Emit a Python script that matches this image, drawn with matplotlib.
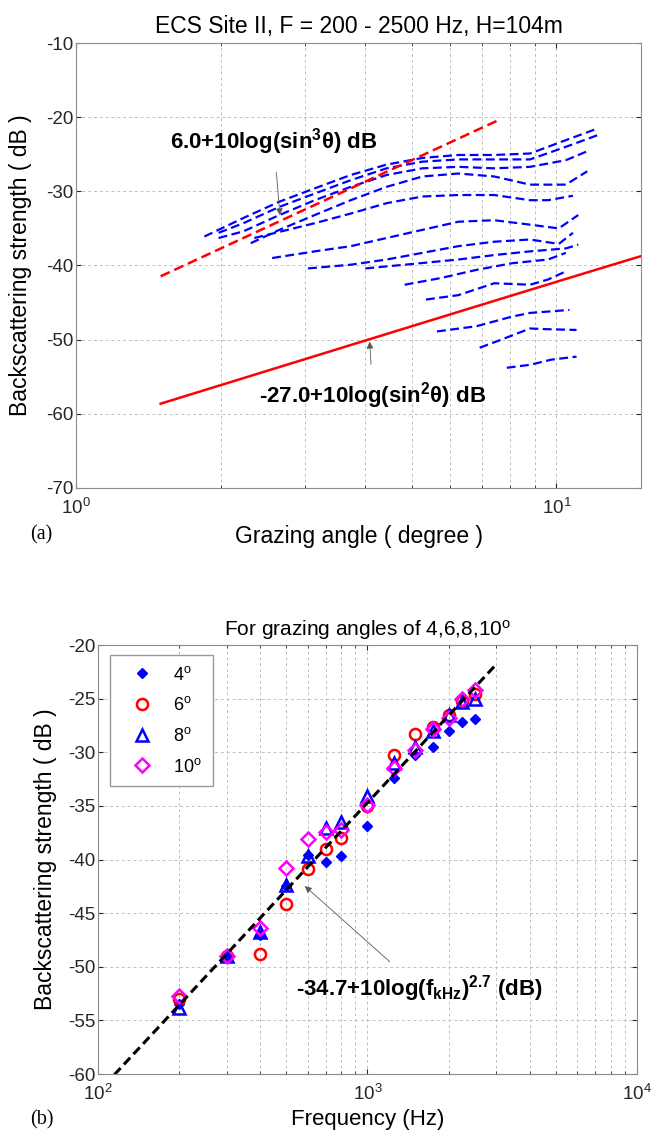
import numpy as np
import matplotlib
matplotlib.use("Agg")
import matplotlib.pyplot as plt
from matplotlib.ticker import LogLocator, NullFormatter, FixedLocator

plt.rcParams["font.family"] = ["Liberation Sans", "DejaVu Sans"]
plt.rcParams["mathtext.fontset"] = "custom"
plt.rcParams["mathtext.rm"] = "Liberation Sans"
plt.rcParams["mathtext.it"] = "Liberation Sans"
plt.rcParams["mathtext.bf"] = "Liberation Sans:bold"
plt.rcParams["axes.unicode_minus"] = False

# ---- (a) backscattering vs grazing angle, one dashed curve per frequency
curve_angles = [
    [1.85, 2.23, 2.65, 3.14, 3.73, 4.43, 5.26, 6.25, 7.42, 8.81, 10.46, 12.21],
    [1.98, 2.23, 2.65, 3.14, 3.73, 4.43, 5.26, 6.25, 7.42, 8.81, 10.46, 12.21],
    [1.98, 2.23, 2.65, 3.14, 3.73, 4.43, 5.26, 6.25, 7.42, 8.81, 10.46, 11.59],
    [2.31, 2.65, 3.14, 3.73, 4.43, 5.26, 6.25, 7.42, 8.81, 10.46, 11.59],
    [2.35, 3.14, 3.73, 4.43, 5.26, 6.25, 7.42, 8.81, 9.60, 10.82],
    [2.56, 3.14, 3.73, 4.43, 5.26, 6.25, 7.42, 8.81, 10.11, 11.10],
    [3.04, 3.73, 4.43, 5.26, 6.25, 7.42, 8.81, 10.11, 10.82],
    [4.00, 4.83, 6.25, 7.42, 8.81, 10.46, 11.10],
    [4.83, 5.74, 6.81, 8.08, 9.60, 10.46],
    [5.35, 6.25, 7.42, 8.81, 9.60, 10.46],
    [5.64, 6.81, 8.08, 8.81, 10.64],
    [6.92, 7.68, 8.81, 9.60, 11.01],
    [7.88, 8.81, 9.76, 11.01],
]
curve_db = [
    [-36.1, -33.6, -31.4, -29.6, -27.8, -26.4, -25.5, -25.1, -25.1, -24.9, -23.1, -21.5],
    [-35.6, -34.3, -32.1, -30.3, -28.5, -26.9, -26.0, -25.7, -25.7, -25.7, -24.0, -22.4],
    [-36.3, -35.4, -33.2, -31.2, -29.4, -27.8, -26.9, -26.7, -26.9, -26.7, -25.8, -24.6],
    [-37.0, -35.2, -33.2, -31.2, -29.4, -28.0, -27.6, -28.0, -29.1, -29.1, -27.3],
    [-36.3, -34.3, -33.0, -31.6, -30.7, -30.5, -30.5, -31.2, -31.2, -30.6],
    [-39.0, -38.1, -37.4, -36.3, -35.2, -34.1, -33.9, -34.5, -35.0, -33.2],
    [-40.4, -39.9, -39.2, -38.3, -37.4, -36.8, -36.5, -37.1, -35.6],
    [-40.4, -39.9, -39.2, -38.6, -38.1, -37.7, -37.2],
    [-42.6, -41.7, -40.6, -39.7, -39.2, -38.3],
    [-44.6, -44.0, -42.4, -42.6, -41.9, -40.8],
    [-48.9, -48.2, -46.9, -46.4, -46.0],
    [-51.1, -50.0, -48.5, -48.6, -48.7],
    [-53.8, -53.4, -52.7, -52.3],
]
# empirical fits: (offset dB, power of sin, first angle, last angle)
fit_upper = (6.0, 3, 1.5, 7.55)
fit_lower = (-27.0, 2, 1.5, 15.0)

# ---- (b) backscattering vs frequency at four grazing angles
freqs = [200, 300, 400, 500, 600, 700, 800, 1000, 1250, 1500, 1750, 2000, 2250, 2500]
bs_4 = [-53.5, -49.0, -47.0, -42.5, -39.6, -40.2, -39.7, -36.9, -32.4, -30.3, -29.5, -28.0, -27.2, -26.9]
bs_6 = [-53.0, -49.0, -48.8, -44.1, -40.9, -39.0, -38.0, -35.0, -30.3, -28.3, -27.6, -26.5, -25.2, -24.6]
bs_8 = [-53.8, -49.0, -46.8, -42.4, -39.7, -37.1, -36.5, -34.1, -31.0, -29.5, -28.0, -26.5, -25.3, -25.0]
bs_10 = [-52.7, -49.0, -46.4, -40.8, -38.1, -37.4, -37.25, -34.9, -31.5, -29.8, -27.8, -26.8, -25.0, -24.2]
fit_freq = (-34.7, 2.7, 115.0, 3000.0)

fig = plt.figure(figsize=(6.64, 11.32), dpi=100)
arrow = dict(arrowstyle="-|>", color="0.35", lw=0.6, shrinkA=9, mutation_scale=10)
grid_kw = dict(color="0.75", ls=(0, (3, 3)), lw=0.7)

# ---------------- panel (a)
ax1 = fig.add_axes([0.1145, 0.569, 0.851, 0.393])
for th, db in zip(curve_angles, curve_db):
    ax1.plot(th, db, color="blue", ls="--", lw=1.6, dashes=(4, 2))

a0, p, t0, t1 = fit_upper
th = np.geomspace(t0, t1, 100)
ax1.plot(th, a0 + 10 * np.log10(np.sin(np.radians(th)) ** p), color="red", ls="--", lw=1.8, dashes=(4, 2))
a0, p, t0, t1 = fit_lower
th = np.geomspace(t0, t1, 100)
ax1.plot(th, a0 + 10 * np.log10(np.sin(np.radians(th)) ** p), color="red", lw=1.8)

ax1.set_xscale("log")
ax1.set_xlim(1, 15)
ax1.set_ylim(-70, -10)
ax1.set_yticks(range(-70, -9, 10))
ax1.xaxis.set_major_locator(FixedLocator([1, 10]))
ax1.xaxis.set_minor_locator(LogLocator(base=10, subs=np.arange(2, 10)))
ax1.xaxis.set_minor_formatter(NullFormatter())
ax1.grid(True, which="both", axis="x", **grid_kw)
ax1.grid(True, which="major", axis="y", **grid_kw)
ax1.set_title("ECS Site II, F = 200 - 2500 Hz, H=104m", fontsize=16.5, pad=7)
ax1.set_xlabel("Grazing angle ( degree )", fontsize=16.5, labelpad=5)
ax1.set_ylabel("Backscattering strength ( dB )", fontsize=16.5, labelpad=10)
ax1.annotate(r"6.0+10log(sin$^{\mathbf{3}}$θ) dB", xy=(2.66, -33.6), xytext=(2.58, -23.3),
             ha="center", va="center", fontsize=16, fontweight="bold", arrowprops=arrow)
ax1.annotate(r"-27.0+10log(sin$^{\mathbf{2}}$θ) dB", xy=(4.08, -49.9), xytext=(4.15, -57.5),
             ha="center", va="center", fontsize=16, fontweight="bold", arrowprops=arrow)

# ---------------- panel (b)
ax2 = fig.add_axes([0.1476, 0.0512, 0.8117, 0.379])
ax2.plot(freqs, bs_4, ls="none", marker="D", ms=5, color="blue", mfc="blue", label="4$^o$")
ax2.plot(freqs, bs_6, ls="none", marker="o", ms=8, color="red", mfc="none", mew=1.8, label="6$^o$")
ax2.plot(freqs, bs_8, ls="none", marker="^", ms=8.5, color="blue", mfc="none", mew=1.8, label="8$^o$")
ax2.plot(freqs, bs_10, ls="none", marker="D", ms=7, color="magenta", mfc="none", mew=1.8, label="10$^o$")
a0, p, f0, f1 = fit_freq
ff = np.geomspace(f0, f1, 100)
ax2.plot(ff, a0 + 10 * np.log10((ff / 1000) ** p), color="black", ls="--", lw=2.2, dashes=(3, 1.6))

ax2.set_xscale("log")
ax2.set_xlim(100, 10000)
ax2.set_ylim(-60, -20)
ax2.set_yticks(range(-60, -19, 5))
ax2.xaxis.set_minor_formatter(NullFormatter())
ax2.grid(True, which="both", axis="x", **grid_kw)
ax2.grid(True, which="major", axis="y", **grid_kw)
ax2.set_title("For grazing angles of 4,6,8,10$^o$", fontsize=15, pad=7)
ax2.set_xlabel("Frequency (Hz)", fontsize=16, labelpad=4)
ax2.set_ylabel("Backscattering strength ( dB )", fontsize=16.5, labelpad=8)
ax2.annotate(r"-34.7+10log(f$_{\mathbf{kHz}}$)$^{\mathbf{2.7}}$ (dB)", xy=(575, -42.3), xytext=(1560, -52.0),
             ha="center", va="center", fontsize=16, fontweight="bold", arrowprops=arrow)
ax2.legend(loc="upper left", fontsize=13, handlelength=2.4, handletextpad=0.5, borderpad=0.6,
           labelspacing=0.7, fancybox=False, edgecolor="0.6", framealpha=1,
           borderaxespad=0, bbox_to_anchor=(0.022, 0.977))

for ax in (ax1, ax2):
    ax.tick_params(which="both", direction="in", top=True, right=True, labelsize=13.5, colors="0.15")
    ax.tick_params(axis="y", pad=2)
    ax.tick_params(axis="x", pad=7)

fig.text(0.045, 1 - 535 / 1132, "(a)", family="Liberation Serif", fontsize=14.5, va="center")
fig.text(0.045, 1 - 1120 / 1132, "(b)", family="Liberation Serif", fontsize=14.5, va="center")

for ax in (ax1, ax2):
    for s in ax.spines.values():
        s.set_color("0.55")
        s.set_linewidth(0.8)

fig.savefig("out.png", dpi=100)
